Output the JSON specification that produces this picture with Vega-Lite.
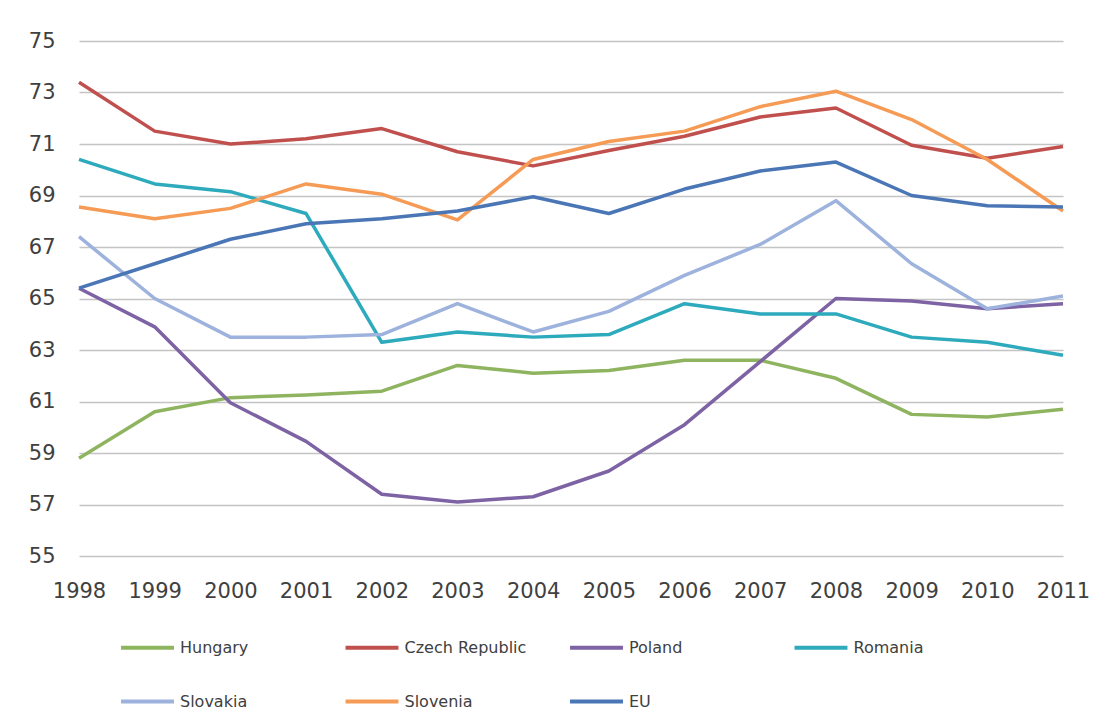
{
  "$schema": "https://vega.github.io/schema/vega-lite/v6.json",
  "width": 984,
  "height": 515,
  "autosize": {"type": "none"},
  "padding": {"left": 79, "top": 41, "right": 45, "bottom": 170},
  "background": "white",
  "config": {
    "view": {"stroke": null},
    "font": "DejaVu Sans"
  },
  "data": {
    "values": [
      {"country": "Hungary", "year": 1998, "value": 58.8},
      {"country": "Hungary", "year": 1999, "value": 60.6},
      {"country": "Hungary", "year": 2000, "value": 61.15},
      {"country": "Hungary", "year": 2001, "value": 61.25},
      {"country": "Hungary", "year": 2002, "value": 61.4},
      {"country": "Hungary", "year": 2003, "value": 62.4},
      {"country": "Hungary", "year": 2004, "value": 62.1},
      {"country": "Hungary", "year": 2005, "value": 62.2},
      {"country": "Hungary", "year": 2006, "value": 62.6},
      {"country": "Hungary", "year": 2007, "value": 62.6},
      {"country": "Hungary", "year": 2008, "value": 61.9},
      {"country": "Hungary", "year": 2009, "value": 60.5},
      {"country": "Hungary", "year": 2010, "value": 60.4},
      {"country": "Hungary", "year": 2011, "value": 60.7},
      {"country": "Czech Republic", "year": 1998, "value": 73.4},
      {"country": "Czech Republic", "year": 1999, "value": 71.5},
      {"country": "Czech Republic", "year": 2000, "value": 71.0},
      {"country": "Czech Republic", "year": 2001, "value": 71.2},
      {"country": "Czech Republic", "year": 2002, "value": 71.6},
      {"country": "Czech Republic", "year": 2003, "value": 70.7},
      {"country": "Czech Republic", "year": 2004, "value": 70.15},
      {"country": "Czech Republic", "year": 2005, "value": 70.75},
      {"country": "Czech Republic", "year": 2006, "value": 71.3},
      {"country": "Czech Republic", "year": 2007, "value": 72.05},
      {"country": "Czech Republic", "year": 2008, "value": 72.4},
      {"country": "Czech Republic", "year": 2009, "value": 70.95},
      {"country": "Czech Republic", "year": 2010, "value": 70.45},
      {"country": "Czech Republic", "year": 2011, "value": 70.9},
      {"country": "Poland", "year": 1998, "value": 65.4},
      {"country": "Poland", "year": 1999, "value": 63.9},
      {"country": "Poland", "year": 2000, "value": 60.95},
      {"country": "Poland", "year": 2001, "value": 59.45},
      {"country": "Poland", "year": 2002, "value": 57.4},
      {"country": "Poland", "year": 2003, "value": 57.1},
      {"country": "Poland", "year": 2004, "value": 57.3},
      {"country": "Poland", "year": 2005, "value": 58.3},
      {"country": "Poland", "year": 2006, "value": 60.1},
      {"country": "Poland", "year": 2007, "value": 62.55},
      {"country": "Poland", "year": 2008, "value": 65.0},
      {"country": "Poland", "year": 2009, "value": 64.9},
      {"country": "Poland", "year": 2010, "value": 64.6},
      {"country": "Poland", "year": 2011, "value": 64.8},
      {"country": "Romania", "year": 1998, "value": 70.4},
      {"country": "Romania", "year": 1999, "value": 69.45},
      {"country": "Romania", "year": 2000, "value": 69.15},
      {"country": "Romania", "year": 2001, "value": 68.3},
      {"country": "Romania", "year": 2002, "value": 63.3},
      {"country": "Romania", "year": 2003, "value": 63.7},
      {"country": "Romania", "year": 2004, "value": 63.5},
      {"country": "Romania", "year": 2005, "value": 63.6},
      {"country": "Romania", "year": 2006, "value": 64.8},
      {"country": "Romania", "year": 2007, "value": 64.4},
      {"country": "Romania", "year": 2008, "value": 64.4},
      {"country": "Romania", "year": 2009, "value": 63.5},
      {"country": "Romania", "year": 2010, "value": 63.3},
      {"country": "Romania", "year": 2011, "value": 62.8},
      {"country": "Slovakia", "year": 1998, "value": 67.4},
      {"country": "Slovakia", "year": 1999, "value": 65.0},
      {"country": "Slovakia", "year": 2000, "value": 63.5},
      {"country": "Slovakia", "year": 2001, "value": 63.5},
      {"country": "Slovakia", "year": 2002, "value": 63.6},
      {"country": "Slovakia", "year": 2003, "value": 64.8},
      {"country": "Slovakia", "year": 2004, "value": 63.7},
      {"country": "Slovakia", "year": 2005, "value": 64.5},
      {"country": "Slovakia", "year": 2006, "value": 65.9},
      {"country": "Slovakia", "year": 2007, "value": 67.1},
      {"country": "Slovakia", "year": 2008, "value": 68.8},
      {"country": "Slovakia", "year": 2009, "value": 66.35},
      {"country": "Slovakia", "year": 2010, "value": 64.6},
      {"country": "Slovakia", "year": 2011, "value": 65.1},
      {"country": "Slovenia", "year": 1998, "value": 68.55},
      {"country": "Slovenia", "year": 1999, "value": 68.1},
      {"country": "Slovenia", "year": 2000, "value": 68.5},
      {"country": "Slovenia", "year": 2001, "value": 69.45},
      {"country": "Slovenia", "year": 2002, "value": 69.05},
      {"country": "Slovenia", "year": 2003, "value": 68.05},
      {"country": "Slovenia", "year": 2004, "value": 70.4},
      {"country": "Slovenia", "year": 2005, "value": 71.1},
      {"country": "Slovenia", "year": 2006, "value": 71.5},
      {"country": "Slovenia", "year": 2007, "value": 72.45},
      {"country": "Slovenia", "year": 2008, "value": 73.05},
      {"country": "Slovenia", "year": 2009, "value": 71.95},
      {"country": "Slovenia", "year": 2010, "value": 70.4},
      {"country": "Slovenia", "year": 2011, "value": 68.4},
      {"country": "EU", "year": 1998, "value": 65.4},
      {"country": "EU", "year": 1999, "value": 66.35},
      {"country": "EU", "year": 2000, "value": 67.3},
      {"country": "EU", "year": 2001, "value": 67.9},
      {"country": "EU", "year": 2002, "value": 68.1},
      {"country": "EU", "year": 2003, "value": 68.4},
      {"country": "EU", "year": 2004, "value": 68.95},
      {"country": "EU", "year": 2005, "value": 68.3},
      {"country": "EU", "year": 2006, "value": 69.25},
      {"country": "EU", "year": 2007, "value": 69.95},
      {"country": "EU", "year": 2008, "value": 70.3},
      {"country": "EU", "year": 2009, "value": 69.0},
      {"country": "EU", "year": 2010, "value": 68.6},
      {"country": "EU", "year": 2011, "value": 68.55}
    ]
  },
  "mark": {"type": "line", "strokeWidth": 3.5, "strokeJoin": "round"},
  "encoding": {
    "x": {
      "field": "year",
      "type": "quantitative",
      "scale": {"domain": [1998, 2011], "nice": false, "zero": false},
      "axis": {
        "title": null,
        "values": [1998, 1999, 2000, 2001, 2002, 2003, 2004, 2005, 2006, 2007, 2008, 2009, 2010, 2011],
        "format": "d",
        "grid": false,
        "domain": false,
        "ticks": false,
        "tickSize": 0,
        "labelPadding": 24,
        "labelFontSize": 21,
        "labelColor": "#404040",
        "labelFlush": false,
        "labelOverlap": false
      }
    },
    "y": {
      "field": "value",
      "type": "quantitative",
      "scale": {"domain": [55, 75], "nice": false, "zero": false},
      "axis": {
        "title": null,
        "values": [55, 57, 59, 61, 63, 65, 67, 69, 71, 73, 75],
        "grid": true,
        "gridColor": "#c4c4c4",
        "gridWidth": 1.6,
        "domain": false,
        "ticks": false,
        "tickSize": 0,
        "labelPadding": 24,
        "labelFontSize": 21,
        "labelColor": "#404040"
      }
    },
    "color": {
      "field": "country",
      "type": "nominal",
      "scale": {
        "domain": ["Hungary", "Czech Republic", "Poland", "Romania", "Slovakia", "Slovenia", "EU"],
        "range": ["#8fb460", "#c0504d", "#7d62a4", "#2eaabd", "#9db2dc", "#f59b55", "#4a76b6"]
      },
      "legend": {
        "title": null,
        "orient": "none",
        "legendX": 40,
        "legendY": 578,
        "direction": "horizontal",
        "columns": 4,
        "gridAlign": "all",
        "columnPadding": 35.5,
        "rowPadding": 17,
        "symbolType": "stroke",
        "symbolSize": 2800,
        "symbolStrokeWidth": 4,
        "labelOffset": 4,
        "labelFontSize": 16,
        "labelColor": "#404040",
        "labelLimit": 300
      }
    }
  }
}
